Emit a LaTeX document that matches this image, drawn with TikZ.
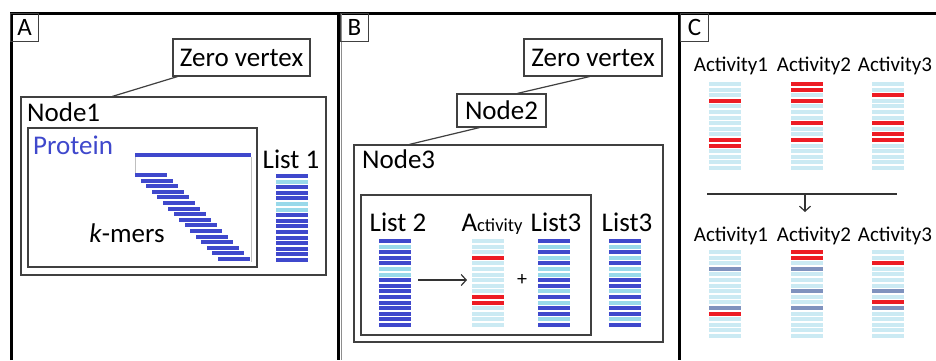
\documentclass[tikz,border=0pt]{standalone}
\usepackage{fontspec}
\setmainfont{Carlito}
\usetikzlibrary{arrows.meta,calc}
\definecolor{kd}{HTML}{3F48CC}
\definecolor{kl}{HTML}{99D9EA}
\definecolor{kv}{HTML}{CBEAF3}
\definecolor{kr}{HTML}{ED1C24}
\definecolor{kg}{HTML}{7F92BE}
\definecolor{frm}{HTML}{404040}
\newcommand\barcol[3]{\foreach \bc [count=\bi from 0] in {#3} {\fill[\bc] (#1,#2+5.6*\bi-2) rectangle ++(32,4);}}
\tikzset{
  box/.style={draw=frm, line width=1.2, inner sep=0},
  big/.style={font=\fontsize{27}{30}\selectfont},
  lbl/.style={inner sep=0, anchor=base, big},
  panel/.style={draw=frm, line width=1, inner sep=0, minimum width=28, minimum height=28, font=\fontsize{25}{28}\selectfont},
  conn/.style={draw=frm, line width=1.2},
  clbl/.style={inner sep=0, anchor=base, font=\fontsize{21}{24}\selectfont, text=black},
  arr/.style={line width=1.2, -{Straight Barb[length=5,width=11]}}
}
\begin{document}
\begin{tikzpicture}[x=1pt,y=-1pt]
\useasboundingbox (0,0) rectangle (936,360);
\fill[white] (0,0) rectangle (936,360);
% panel frames
\draw[line width=3.5] (11.5,360) -- (11.5,13.5) -- (936,13.5);
\draw[line width=3] (338.5,13.5) -- (338.5,360);
\draw[line width=3] (679,13.5) -- (679,360);
\draw[frm!60, line width=1] (341.5,13.5) -- (341.5,360);
\node[panel] (pa) at (24.5,27.5) {A};
\node[panel] (pb) at (354.5,27.5) {B};
\node[panel] (pc) at (694.5,27.5) {C};

% ---------- Panel A ----------
\node[box, minimum width=137, minimum height=37, big] (zvA) at (241.5,57.5) {Zero vertex};
\node[box, minimum width=305, minimum height=178] (n1) at (173.5,186) {};
\node[lbl, anchor=base west] (n1t) at (27,121) {Node1};
\coordinate (ca1) at ([xshift=5]zvA.south west);
\coordinate (ca2) at ([xshift=92]n1.north west);
\draw[conn] (ca1) -- (ca2);
\node[box, minimum width=229, minimum height=139] (prot) at (142.5,197.5) {};
\node[lbl, anchor=base west, text=kd] (pt) at (33,154) {Protein};
\draw[black!25, line width=1] (135,157) -- (135,173);
\draw[black!25, line width=1] (251,157) -- (251,262);
\fill[kd] (135,153) rectangle (251,157);
\foreach \i in {0,...,15} {\fill[kd] (135+5.53*\i,175+5.6*\i-2) rectangle ++(32,4);}
\node[lbl] (km) at (127,242) {\textit{k}-mers};
\node[lbl] (l1) at (291,168) {List 1};
\barcol{276}{176}{kd,kl,kd,kd,kd,kl,kl,kd,kd,kd,kd,kd,kd,kd,kd,kd}

% ---------- Panel B ----------
\node[box, minimum width=138, minimum height=37, big] (zvB) at (593,57.5) {Zero vertex};
\node[box, minimum width=89, minimum height=33, big] (n2) at (501.5,110.5) {Node2};
\node[box, minimum width=309, minimum height=197] (n3) at (508.5,243.5) {};
\node[lbl, anchor=base west] (n3t) at (362,168) {Node3};
\coordinate (cb1) at ([xshift=66]zvB.south west);
\coordinate (cb2) at ([xshift=61]n2.north west);
\draw[conn] (cb1) -- (cb2);
\coordinate (cb3) at ([xshift=23]n2.south west);
\coordinate (cb4) at ([xshift=56]n3.north west);
\draw[conn] (cb3) -- (cb4);
\node[box, minimum width=230, minimum height=140] (inB) at (476,265) {};
\node[lbl] (l2) at (398,231) {List 2};
\node[lbl] (act) at (492,231) {A{\fontsize{18.5}{20}\selectfont ctivity}};
\node[lbl] (l3a) at (556,231) {List3};
\node[lbl] (l3b) at (627,231) {List3};
\barcol{379}{241}{kd,kl,kd,kd,kd,kl,kl,kd,kd,kd,kd,kd,kd,kd,kd,kd}
\barcol{472}{241}{kv,kv,kv,kr,kv,kv,kv,kv,kv,kv,kr,kr,kv,kv,kv,kv}
\barcol{538}{241}{kd,kl,kd,kl,kd,kl,kl,kd,kd,kl,kd,kl,kd,kd,kl,kd}
\barcol{609}{241}{kd,kl,kd,kl,kd,kl,kl,kd,kd,kl,kd,kl,kd,kd,kl,kd}
\coordinate (as) at (418,280);
\coordinate (ae) at (467,280);
\draw[arr, black!80] (as) -- (ae);
\node[inner sep=0, font=\fontsize{20}{22}\selectfont] (plus) at (522,280) {+};

% ---------- Panel C ----------
\node[clbl] (t1) at (731,71) {Activity1};
\node[clbl] (t2) at (814,71) {Activity2};
\node[clbl] (t3) at (895,71) {Activity3};
\barcol{709}{84}{kv,kv,kv,kr,kv,kv,kv,kv,kv,kv,kr,kr,kv,kv,kv,kv}
\barcol{791}{84}{kr,kr,kv,kr,kv,kv,kv,kr,kv,kv,kr,kv,kv,kv,kv,kv}
\barcol{872}{84}{kv,kv,kr,kv,kv,kv,kv,kr,kv,kr,kr,kv,kv,kv,kv,kv}
\coordinate (hl) at (707,194);
\coordinate (hr) at (897,194);
\coordinate (hm) at (805,194);
\coordinate (hd) at (805,212);
\draw[line width=1.2, black!80] (hl) -- (hr);
\draw[arr, black!80] (hm) -- (hd);
\node[clbl] (b1) at (731,241) {Activity1};
\node[clbl] (b2) at (814,241) {Activity2};
\node[clbl] (b3) at (895,241) {Activity3};
\barcol{709}{252}{kv,kv,kv,kg,kv,kv,kv,kv,kv,kv,kg,kr,kv,kv,kv,kv}
\barcol{791}{252}{kr,kr,kv,kg,kv,kv,kv,kg,kv,kv,kg,kv,kv,kv,kv,kv}
\barcol{872}{252}{kv,kv,kr,kv,kv,kv,kv,kg,kv,kr,kg,kv,kv,kv,kv,kv}
\end{tikzpicture}
\end{document}
